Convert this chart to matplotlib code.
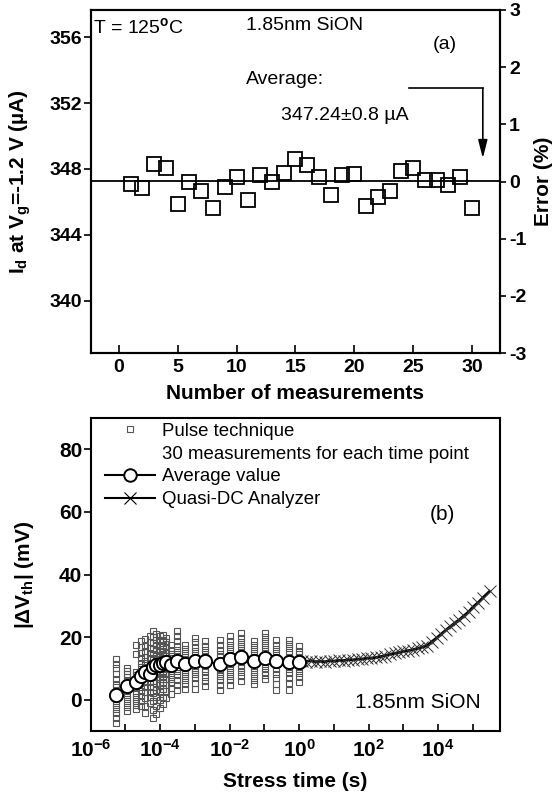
import matplotlib
matplotlib.use('Agg')
import matplotlib.pyplot as plt
import numpy as np
from matplotlib.lines import Line2D
from matplotlib.ticker import FixedLocator, FuncFormatter, NullLocator

plt.rcParams['font.family'] = ['Liberation Sans', 'DejaVu Sans']
plt.rcParams['font.weight'] = 'bold'
plt.rcParams['mathtext.fontset'] = 'custom'
plt.rcParams['mathtext.rm'] = 'Liberation Sans'
plt.rcParams['mathtext.it'] = 'Liberation Sans:italic'
plt.rcParams['mathtext.bf'] = 'Liberation Sans:bold'
plt.rcParams['axes.unicode_minus'] = False

# ---------------- data: panel (a) ----------------
meas_n = [1, 2, 3, 4, 5, 6, 7, 8, 9, 10, 11, 12, 13, 14, 15,
          16, 17, 18, 19, 20, 21, 22, 23, 24, 25, 26, 27, 28, 29, 30]
id_vals = [347.10, 346.87, 348.31, 348.06, 345.89, 347.18, 346.67, 345.60,
           346.93, 347.49, 346.11, 347.61, 347.18, 347.75, 348.61, 348.27,
           347.49, 346.42, 347.61, 347.69, 345.76, 346.32, 346.67, 347.86,
           348.06, 347.34, 347.34, 347.03, 347.49, 345.60]
id_avg = 347.24
id_ticks = [340, 344, 348, 352, 356]
err_ticks = [-3, -2, -1, 0, 1, 2, 3]
meas_ticks = [0, 5, 10, 15, 20, 25, 30]

# ---------------- data: panel (b) ----------------
avg_t = [5.5e-6, 1.1e-5, 2.1e-5, 2.9e-5, 3.7e-5, 5.0e-5, 6.3e-5, 7.8e-5,
         9.8e-5, 1.2e-4, 1.5e-4, 2.1e-4, 3.0e-4, 5.2e-4, 1.0e-3, 1.95e-3,
         5.2e-3, 1.02e-2, 2.1e-2, 5.2e-2, 0.105, 0.21, 0.5, 1.0]
avg_v = [1.5, 4.4, 5.7, 7.6, 9.0, 8.3, 10.4, 11.0,
         11.2, 11.8, 11.9, 11.0, 12.5, 11.5, 12.5, 12.4,
         11.3, 13.0, 13.7, 12.4, 13.2, 12.4, 12.2, 12.1]
pulse_vals = [
    [-7.4, -5.8, -4.2, -2.9, -1.6, -0.5, 0.6, 1.7, 2.8, 3.9, 5.1, 6.6, 8.2, 10.0, 11.5, 12.9],
    [-3.6, -2.3, -1.0, 0.3, 1.5, 2.7, 3.8, 4.9, 6.0, 7.1, 8.3, 9.2, 10.1],
    [-3.1, -1.8, -0.4, 1.0, 2.3, 3.6, 4.8, 6.0, 7.2, 8.0, 9.0, 14.5, 17.5],
    [-2.0, -0.5, 1.2, 2.8, 4.0, 5.3, 6.5, 7.8, 9.0, 10.3, 11.7, 13.2, 15.0, 16.8, 18.9],
    [-4.2, -2.0, 0.5, 2.5, 4.2, 5.8, 7.2, 8.5, 9.8, 11.0, 12.4, 13.8, 15.5, 17.2, 19.5],
    [-1.0, 0.8, 2.5, 4.0, 5.5, 6.8, 8.0, 9.2, 10.5, 11.8, 13.2, 14.8, 16.5, 18.5, 20.5],
    [-5.8, -3.2, -0.5, 2.0, 4.2, 6.0, 7.6, 9.0, 10.4, 11.8, 13.2, 14.6, 16.2, 18.0, 20.0, 22.0],
    [-4.5, -2.0, 0.8, 3.2, 5.3, 7.1, 8.7, 10.2, 11.6, 13.0, 14.4, 15.9, 17.5, 19.2, 21.0],
    [-2.5, 0.0, 2.6, 4.8, 6.7, 8.3, 9.8, 11.2, 12.6, 14.0, 15.5, 17.0, 18.6, 20.3],
    [-1.5, 1.0, 3.5, 5.6, 7.4, 9.0, 10.5, 11.9, 13.3, 14.7, 16.1, 17.6, 19.2, 20.8],
    [0.5, 2.8, 4.8, 6.6, 8.2, 9.7, 11.1, 12.5, 13.9, 15.3, 16.8, 18.3, 19.8],
    [1.8, 3.6, 5.2, 6.6, 8.0, 9.3, 10.6, 11.9, 13.2, 14.5, 15.9, 17.4],
    [3.0, 4.8, 6.4, 7.9, 9.3, 10.6, 11.9, 13.2, 14.5, 15.8, 17.2, 18.7, 20.3, 22.0],
    [3.5, 5.0, 6.4, 7.7, 9.0, 10.2, 11.4, 12.6, 13.8, 15.0, 16.3, 17.6],
    [3.4, 5.2, 6.8, 8.2, 9.5, 10.8, 12.0, 13.2, 14.4, 15.6, 16.9, 18.3, 19.8],
    [4.5, 6.0, 7.4, 8.7, 9.9, 11.1, 12.3, 13.5, 14.7, 15.9, 17.2, 18.6],
    [3.2, 4.8, 6.2, 7.5, 8.7, 9.9, 11.1, 12.3, 13.5, 14.7, 16.0, 17.4, 19.0],
    [4.6, 6.2, 7.6, 8.9, 10.1, 11.3, 12.5, 13.7, 14.9, 16.1, 17.4, 18.8, 20.2],
    [6.0, 7.5, 8.8, 10.0, 11.2, 12.4, 13.6, 14.8, 16.0, 17.2, 18.5, 19.8, 21.2],
    [5.0, 6.4, 7.7, 8.9, 10.1, 11.3, 12.5, 13.7, 14.9, 16.1, 17.4, 18.7],
    [6.5, 7.8, 9.0, 10.2, 11.4, 12.6, 13.8, 15.0, 16.2, 17.4, 18.7, 20.0, 21.2],
    [3.0, 5.0, 6.8, 8.3, 9.7, 11.0, 12.3, 13.6, 14.9, 16.2, 17.6, 19.0],
    [3.2, 5.2, 7.0, 8.5, 9.9, 11.2, 12.5, 13.8, 15.1, 16.4, 17.8, 19.0],
    [5.8, 7.2, 8.5, 9.7, 10.9, 12.1, 13.3, 14.5, 15.7, 17.0],
]
qdc_t = [1.2, 1.6, 2.2, 3, 4, 5.5, 7.5, 10, 14, 19, 26, 35, 48, 65, 90, 120,
         165, 225, 300, 410, 560, 760, 1000, 1400, 1900, 2600, 3500, 4800,
         6500, 9000, 12000, 16500, 22500, 30000, 41000, 56000, 76000,
         100000, 140000, 190000, 300000]
qdc_v = [12.4, 12.2, 12.5, 12.1, 12.3, 12.1, 12.5, 12.3, 12.6, 12.5, 12.8,
         12.7, 13.0, 13.0, 13.3, 13.3, 13.5, 13.8, 14.1, 14.5, 14.8, 15.1,
         15.4, 15.7, 16.0, 16.4, 16.8, 17.3, 18.5, 19.7, 20.9, 22.2, 23.4,
         24.5, 25.6, 26.9, 28.1, 29.6, 31.0, 32.5, 34.6]
b_yticks = [0, 20, 40, 60, 80]
b_xticks = [1e-6, 1e-5, 1e-4, 1e-3, 1e-2, 1e-1, 1e0, 1e1, 1e2, 1e3, 1e4, 1e5]

W, H = 557, 797
fig = plt.figure(figsize=(W / 100, H / 100), dpi=100)
L, R = 90.5, 500.0
axA = fig.add_axes([L / W, 1 - 353 / H, (R - L) / W, (353 - 10) / H])
axB = fig.add_axes([L / W, 1 - 731 / H, (R - L) / W, (731 - 418) / H])

spine_w = 1.5
for ax in (axA, axB):
    for s in ax.spines.values():
        s.set_linewidth(spine_w)

# ---------------- panel (a) ----------------
axA.axhline(id_avg, color='black', lw=1.3, zorder=2)
axA.plot(meas_n, id_vals, linestyle='none', marker='s', ms=10.5, mfc='none',
         mec='black', mew=1.3, zorder=3)
axA.set_xlim(-2.41, 32.39)
axA.set_ylim(id_avg * 0.97, id_avg * 1.03)
axA.set_xticks(meas_ticks)
axA.set_yticks(id_ticks)
axA.tick_params(axis='x', direction='in', length=6, width=1.2, labelsize=14, pad=4.5)
axA.tick_params(axis='y', direction='out', length=5, width=1.2, labelsize=14, pad=1)
axA.set_xlabel('Number of measurements', fontsize=15, fontweight='bold')
axA.xaxis.set_label_coords(0.5, -0.117)
axA.xaxis.label.set_verticalalignment('center')
axA.set_ylabel(r'I$_{\mathbf{d}}$ at V$_{\mathbf{g}}$=-1.2 V (µA)', fontsize=15, fontweight='bold')
axA.yaxis.set_label_coords(-0.172, 0.5)
axA.yaxis.label.set_verticalalignment('center')

axR = axA.twinx()
axR.set_ylim(-3, 3)
axR.set_yticks(err_ticks)
axR.tick_params(axis='y', direction='out', length=4, width=1.2, labelsize=14, pad=2.5)
axR.set_ylabel('Error (%)', fontsize=15, fontweight='bold')
axR.yaxis.set_label_coords(1.107, 0.5)
axR.yaxis.label.set_verticalalignment('center')
for s in axR.spines.values():
    s.set_linewidth(spine_w)

# arrow annotation
axA.plot([24.67, 30.93], [352.9, 352.9], color='black', lw=1.2)
axA.annotate('', xy=(30.93, 348.65), xytext=(30.93, 352.9),
             arrowprops=dict(arrowstyle='-|>,head_length=1.1,head_width=0.28',
                             color='black', lw=1.2, mutation_scale=10,
                             shrinkA=0, shrinkB=0))
tk = dict(transform=axA.transAxes, fontsize=14, fontweight='normal', va='center', ha='left')
axA.text(0.006, 0.950, r'T = 125$^{\rm o}$C', **tk)
axA.text(0.379, 0.956, '1.85nm SiON', **tk)
axA.text(0.835, 0.900, '(a)', **tk)
axA.text(0.379, 0.796, 'Average:', **tk)
axA.text(0.4656, 0.693, '347.24±0.8 µA', **tk)

# ---------------- panel (b) ----------------
px, py = [], []
for t, vals in zip(avg_t, pulse_vals):
    px.extend([t] * len(vals))
    py.extend(vals)
axB.plot(px, py, linestyle='none', marker='s', ms=5, mfc='none', mec='#555555',
         mew=0.8, zorder=2)
axB.plot(qdc_t, qdc_v, color='black', lw=2.0, marker='x', ms=8, mec='#333333',
         mew=0.7, zorder=3)
axB.plot(avg_t, avg_v, color='black', lw=1.5, marker='o', ms=9.5, mfc='white',
         mec='black', mew=1.4, zorder=4)
axB.set_xscale('log')
axB.set_xlim(1e-6, 6e5)
axB.set_ylim(-10, 90)
axB.set_yticks(b_yticks)
axB.xaxis.set_major_locator(FixedLocator(b_xticks))
axB.xaxis.set_minor_locator(NullLocator())


def fmt(v, pos):
    e = int(round(np.log10(v)))
    return r'$\mathbf{10}^{\mathbf{%d}}$' % e if e % 2 == 0 else ''


axB.xaxis.set_major_formatter(FuncFormatter(fmt))
axB.tick_params(axis='x', direction='in', length=5, width=1.2, labelsize=15, pad=6, top=False)
axB.tick_params(axis='y', direction='out', length=5, width=1.2, labelsize=15, pad=1, right=False)
axB.set_xlabel('Stress time (s)', fontsize=15, fontweight='bold')
axB.xaxis.set_label_coords(0.5, -0.16)
axB.xaxis.label.set_verticalalignment('center')
axB.set_ylabel(r'|ΔV$_{\mathbf{th}}$| (mV)', fontsize=15, fontweight='bold')
axB.yaxis.set_label_coords(-0.162, 0.5)
axB.yaxis.label.set_verticalalignment('center')

h1 = Line2D([], [], linestyle='none', marker='s', ms=5, mfc='none', mec='#555555', mew=0.8)
h2 = Line2D([], [], linestyle='none')
h3 = Line2D([], [], color='black', lw=1.5, marker='o', ms=9, mfc='white', mec='black', mew=1.4)
h4 = Line2D([], [], color='black', lw=1.5, marker='x', ms=9, mec='black', mew=0.8)
leg = axB.legend([h1, h2, h3, h4],
                 ['Pulse technique', '30 measurements for each time point',
                  'Average value', 'Quasi-DC Analyzer'],
                 loc='upper left', bbox_to_anchor=(0.035, 0.985), frameon=False,
                 borderpad=0, borderaxespad=0, handlelength=2.67, handletextpad=0.38,
                 labelspacing=0.31, numpoints=1,
                 prop={'family': ['Liberation Sans'], 'weight': 'normal', 'size': 13.4})

tb = dict(transform=axB.transAxes, fontsize=15, fontweight='normal', va='center', ha='left')
axB.text(0.829, 0.693, '(b)', **tb)
axB.text(0.647, 0.091, '1.85nm SiON', **tb)

fig.savefig('out.png', dpi=100)
